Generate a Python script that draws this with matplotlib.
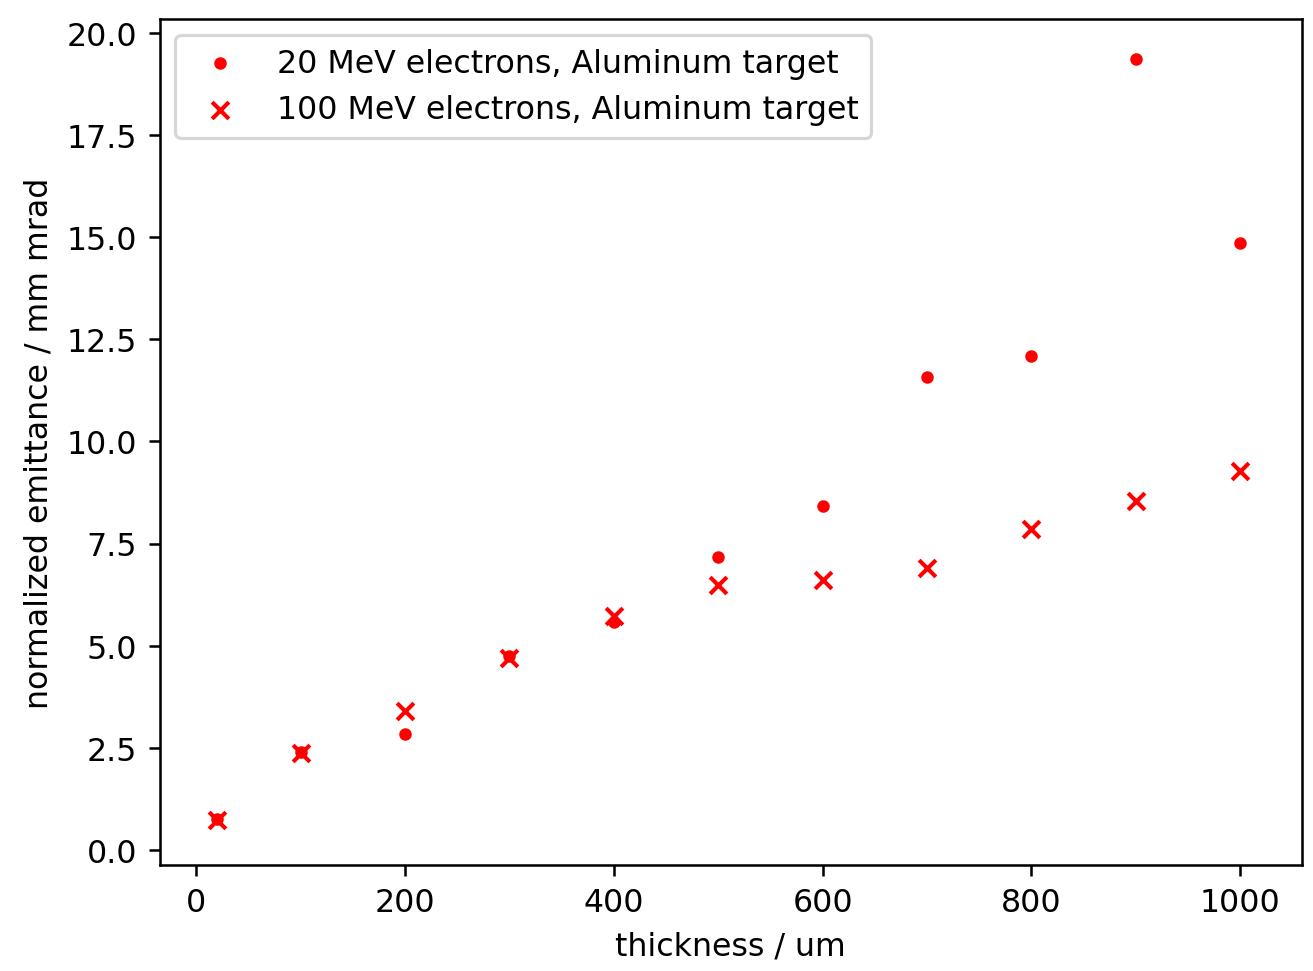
import matplotlib
matplotlib.use("Agg")
import matplotlib.pyplot as plt

# thickness in um
thickness = [20, 100, 200, 300, 400, 500, 600, 700, 800, 900, 1000]
# normalized emittance in mm mrad
emit_20mev = [0.76, 2.40, 2.84, 4.75, 5.58, 7.17, 8.42, 11.58, 12.09, 19.36, 14.86]
emit_100mev = [0.73, 2.37, 3.40, 4.70, 5.73, 6.49, 6.61, 6.90, 7.86, 8.54, 9.28]

fig = plt.figure(figsize=(5.759, 4.263), dpi=228)
ax = fig.add_axes([0.1215, 0.1091, 0.8700, 0.8703])

ax.scatter(thickness, emit_20mev, marker='.', color='r', s=28, linewidths=1.3,
           label='20 MeV electrons, Aluminum target')
ax.scatter(thickness, emit_100mev, marker='x', color='r', s=28, linewidths=1.3,
           label='100 MeV electrons, Aluminum target')

ax.set_xlim(-35, 1059)
ax.set_ylim(-0.37, 20.34)
ax.set_xlabel('thickness / um')
ax.set_ylabel('normalized emittance / mm mrad')
ax.legend(loc='upper left')

fig.savefig('out.png', dpi=228)
